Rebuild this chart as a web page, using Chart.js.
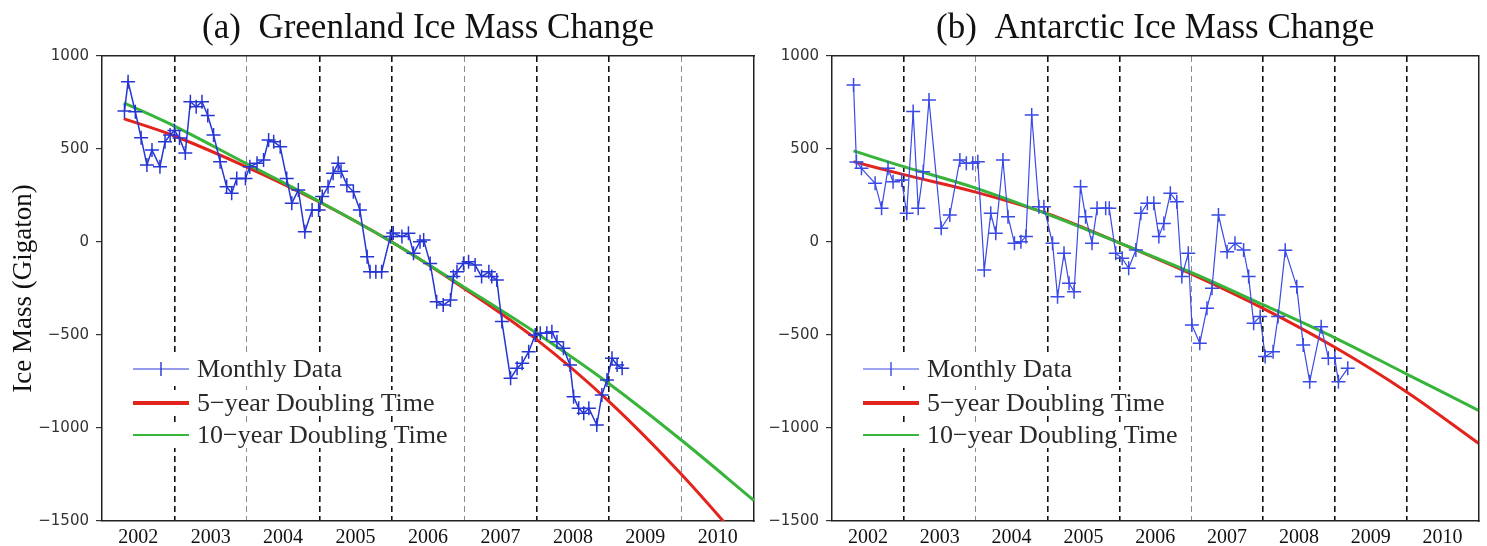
<!DOCTYPE html>
<html>
<head>
<meta charset="utf-8">
<script src="https://cdn.jsdelivr.net/npm/chart.js@4.4.0/dist/chart.umd.min.js"></script>
<style>
html, body { margin: 0; padding: 0; background: #fff; }
#wrap { position: relative; width: 1487px; height: 546px; overflow: hidden; }
#left { position: absolute; left: 0; top: 0; }
#right { position: absolute; left: 770px; top: 0; }
</style>
</head>
<body>
<div id="wrap">
  <canvas id="left" width="770" height="546"></canvas>
  <canvas id="right" width="717" height="546"></canvas>
</div>
<script>
// Greenland monthly data (year, Gt)
const grYears = [2002.31, 2002.36, 2002.46, 2002.54, 2002.62, 2002.69, 2002.80, 2002.87, 2002.94, 2003.00,
  2003.07, 2003.15, 2003.22, 2003.30, 2003.38, 2003.46, 2003.54, 2003.63, 2003.72, 2003.79,
  2003.86, 2003.98, 2004.04, 2004.14, 2004.23, 2004.30, 2004.37, 2004.46, 2004.55, 2004.62,
  2004.71, 2004.80, 2004.90, 2004.99, 2005.04, 2005.12, 2005.19, 2005.26, 2005.30, 2005.38,
  2005.47, 2005.56, 2005.66, 2005.70, 2005.78, 2005.86, 2005.98, 2006.02, 2006.14, 2006.23,
  2006.30, 2006.39, 2006.44, 2006.53, 2006.62, 2006.71, 2006.81, 2006.85, 2006.90, 2006.99,
  2007.06, 2007.15, 2007.24, 2007.34, 2007.38, 2007.45, 2007.52, 2007.64, 2007.73, 2007.80,
  2007.89, 2007.98, 2008.05, 2008.14, 2008.21, 2008.28, 2008.37, 2008.46, 2008.51, 2008.58,
  2008.65, 2008.72, 2008.83, 2008.90, 2008.97, 2009.04, 2009.11, 2009.18];
const grMass = [704, 862, 700, 560, 414, 495, 405, 539, 575, 600,
  559, 478, 754, 727, 754, 680, 575, 432, 297, 262,
  342, 342, 405, 423, 441, 548, 539, 512, 342, 208,
  280, 55, 172, 172, 244, 297, 370, 423, 380, 307,
  270, 172, -79, -160, -160, -160, 29, 48, 29, 47,
  -61, 2, 11, -115, -321, -339, -312, -186, -160, -115,
  -106, -124, -186, -160, -186, -204, -428, -733, -679, -652,
  -590, -500, -491, -491, -482, -536, -571, -661, -832, -894,
  -921, -894, -984, -822, -742, -625, -661, -679];

// Antarctic monthly data (year, Gt)
const anYears = [2002.30, 2002.34, 2002.41, 2002.60, 2002.69, 2002.78, 2002.85, 2002.97, 2003.04, 2003.13,
  2003.20, 2003.27, 2003.35, 2003.52, 2003.64, 2003.78, 2003.87, 2003.96, 2004.03, 2004.12,
  2004.21, 2004.28, 2004.38, 2004.45, 2004.54, 2004.63, 2004.70, 2004.78, 2004.88, 2004.95,
  2005.07, 2005.14, 2005.23, 2005.30, 2005.37, 2005.46, 2005.53, 2005.62, 2005.69, 2005.81,
  2005.86, 2005.95, 2006.04, 2006.13, 2006.23, 2006.30, 2006.39, 2006.48, 2006.55, 2006.62,
  2006.71, 2006.80, 2006.87, 2006.96, 2007.01, 2007.12, 2007.22, 2007.29, 2007.38, 2007.50,
  2007.61, 2007.73, 2007.80, 2007.87, 2007.96, 2008.03, 2008.14, 2008.21, 2008.31, 2008.47,
  2008.56, 2008.65, 2008.81, 2008.91, 2009.00, 2009.05, 2009.18];
const anMass = [844, 430, 396, 316, 181, 396, 324, 333, 154, 701,
  181, 378, 763, 74, 145, 441, 423, 423, 432, -150,
  154, 47, 441, 136, -7, 2, 29, 683, 190, 190,
  -7, -294, -61, -222, -267, 297, 136, -7, 181, 181,
  181, -61, -88, -141, -43, 154, 208, 208, 30, 100,
  262, 217, -186, -61, -446, -544, -356, -249, 145, -52,
  -7, -43, -186, -437, -401, -616, -590, -401, -45, -240,
  -554, -751, -455, -625, -625, -751, -679];

// doubling-time fits
const fitYears = [2002.3, 2003, 2004, 2005, 2006, 2007, 2008, 2009, 2010, 2011];
const grFit5 = [663, 570, 403, 215, 0, -250, -525, -858, -1250, -1690];
const grFit10 = [748, 623, 420, 218, 0, -243, -491, -762, -1066, -1390];
const anFit5 = [432, 362, 268, 152, -5, -172, -357, -566, -806, -1082];
const anFit10 = [490, 405, 290, 150, -5, -163, -337, -515, -710, -905];

// axes
const yTickValues = [-1500, -1000, -500, 0, 500, 1000];
const xTickValues = [2002, 2002.5, 2003, 2003.5, 2004, 2004.5, 2005, 2005.5, 2006, 2006.5,
  2007, 2007.5, 2008, 2008.5, 2009, 2009.5, 2010, 2010.5, 2011];

const serif = '"Liberation Serif", "Times New Roman", serif';
const sans = '"DejaVu Sans", sans-serif';

function pts(xs, ys) {
    return xs.map((x, i) => ({ x: x, y: ys[i] }));
}

// legend drawn inside the plot, lower left
const insideLegend = {
    id: 'insideLegend',
    afterDatasetsDraw(chart) {
        const ctx = chart.ctx;
        const a = chart.chartArea;
        const x0 = a.left + 31, x1 = a.left + 87, tx = a.left + 95;
        const rows = [a.bottom - 152, a.bottom - 118, a.bottom - 86];
        ctx.save();
        ctx.font = '26px ' + serif;
        ctx.textBaseline = 'middle';
        chart.data.datasets.forEach((ds, i) => {
            const y = rows[i];
            const w = ctx.measureText(ds.label).width;
            ctx.fillStyle = '#fff';
            ctx.fillRect(x0 - 3, y - 13, tx - x0 + w + 6, 26);
            ctx.strokeStyle = ds.borderColor;
            ctx.lineWidth = ds.legendWidth;
            ctx.beginPath();
            ctx.moveTo(x0, y);
            ctx.lineTo(x1, y);
            ctx.stroke();
            if (ds.pointStyle === 'cross') {
                const cx = (x0 + x1) / 2;
                ctx.lineWidth = 1.4;
                ctx.beginPath();
                ctx.moveTo(cx, y - 7);
                ctx.lineTo(cx, y + 7);
                ctx.stroke();
            }
            ctx.fillStyle = '#2a2a2a';
            ctx.fillText(ds.label, tx, y + 1);
        });
        ctx.restore();
    }
};

function gridColor(c, lightYears) {
    const v = c.tick ? c.tick.value : null;
    if (v === null || !Number.isInteger(v) || v <= 2002 || v >= 2011) return 'rgba(0,0,0,0)';
    return lightYears.includes(v) ? '#8c8c8c' : '#111';
}

function makeChart(id, title, mx, my, fit5, fit10, opt) {
    return new Chart(document.getElementById(id), {
        type: 'line',
        data: {
            datasets: [
                {
                    label: 'Monthly Data',
                    data: pts(mx, my),
                    borderColor: opt.blue,
                    borderWidth: opt.blueWidth,
                    legendWidth: 1,
                    pointStyle: 'cross',
                    pointRadius: 7,
                    pointBorderWidth: 1.5,
                    pointBorderColor: opt.blue,
                    tension: 0,
                    order: 0
                },
                {
                    label: '5\u2212year Doubling Time',
                    data: pts(fitYears, fit5),
                    borderColor: '#e3241c',
                    borderWidth: 3,
                    legendWidth: 4,
                    pointRadius: 0,
                    tension: 0.35,
                    order: 2
                },
                {
                    label: '10\u2212year Doubling Time',
                    data: pts(fitYears, fit10),
                    borderColor: '#37b43a',
                    borderWidth: 3,
                    legendWidth: 2,
                    pointRadius: 0,
                    tension: 0.35,
                    order: 1
                }
            ]
        },
        options: {
            responsive: false,
            animation: false,
            devicePixelRatio: 1,
            layout: { padding: { left: 0, right: opt.padRight, top: 0, bottom: 0 } },
            plugins: {
                legend: { display: false },
                tooltip: { enabled: false },
                title: {
                    display: true,
                    text: title,
                    fullSize: false,
                    color: '#111',
                    font: { family: serif, size: 35, weight: 'normal' },
                    padding: { top: 8, bottom: 6 }
                }
            },
            scales: {
                x: {
                    type: 'linear',
                    min: 2002,
                    max: 2011,
                    afterBuildTicks: s => { s.ticks = xTickValues.map(v => ({ value: v })); },
                    afterFit: s => { s.height = 25; },
                    ticks: {
                        autoSkip: false,
                        maxRotation: 0,
                        padding: 5,
                        color: '#111',
                        font: { family: serif, size: 20 },
                        callback: v => Number.isInteger(v) ? '' : String(Math.floor(v))
                    },
                    grid: {
                        drawTicks: false,
                        color: c => gridColor(c, opt.lightYears),
                        lineWidth: c => (c.tick && opt.lightYears.includes(c.tick.value)) ? 1 : 1.6
                    },
                    border: { color: '#222', width: 1.5, dash: [6, 4] }
                },
                y: {
                    min: -1500,
                    max: 1000,
                    afterBuildTicks: s => { s.ticks = yTickValues.map(v => ({ value: v })); },
                    afterFit: s => { s.width = opt.yWidth; },
                    ticks: {
                        padding: 7,
                        color: '#333',
                        font: { family: sans, size: 15 },
                        callback: v => String(v).replace('-', '\u2212')
                    },
                    grid: { drawOnChartArea: false, tickLength: 6, color: '#333', lineWidth: 1.2 },
                    border: { color: '#222', width: 1.5 },
                    title: {
                        display: opt.yTitle,
                        text: 'Ice Mass (Gigaton)',
                        color: '#111',
                        font: { family: serif, size: 27 },
                        padding: { top: 8, bottom: 0 }
                    }
                },
                x2: {
                    type: 'linear',
                    position: 'top',
                    min: 2002,
                    max: 2011,
                    afterFit: s => { s.height = 0; },
                    ticks: { display: false },
                    grid: { display: false },
                    border: { display: true, color: '#222', width: 1.5 }
                },
                y2: {
                    position: 'right',
                    min: -1500,
                    max: 1000,
                    afterFit: s => { s.width = 0; },
                    ticks: { display: false },
                    grid: { display: false },
                    border: { display: true, color: '#222', width: 1.5 }
                }
            }
        },
        plugins: [insideLegend]
    });
}

makeChart('left', '(a)  Greenland Ice Mass Change', grYears, grMass, grFit5, grFit10,
    { blue: '#2636d4', blueWidth: 1.5, padRight: 16, yWidth: 102, yTitle: true, lightYears: [2004, 2007, 2010] });
makeChart('right', '(b)  Antarctic Ice Mass Change', anYears, anMass, anFit5, anFit10,
    { blue: '#3a4ae6', blueWidth: 1.2, padRight: 6, yWidth: 62, yTitle: false, lightYears: [2004, 2007] });
</script>
</body>
</html>
